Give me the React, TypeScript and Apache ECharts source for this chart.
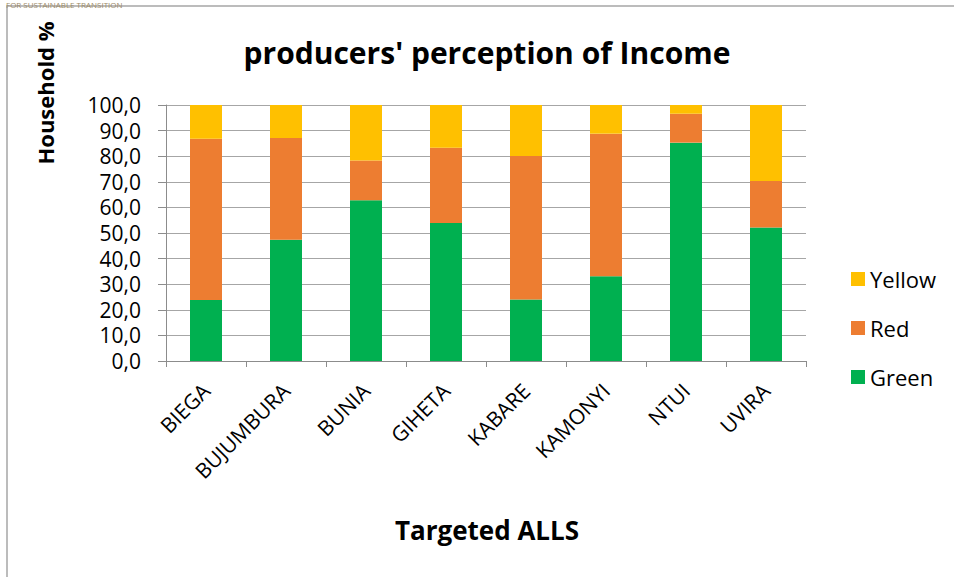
import React, { useEffect, useRef } from "react";
import * as echarts from "echarts";

const categories = ["BIEGA", "BUJUMBURA", "BUNIA", "GIHETA", "KABARE", "KAMONYI", "NTUI", "UVIRA"];
const greenValues = [23.8, 47.4, 62.8, 53.9, 24.0, 33.1, 85.3, 52.1];
const redValues = [63.0, 39.7, 15.5, 29.4, 56.1, 55.7, 11.3, 18.2];
const yellowValues = [13.2, 12.9, 21.7, 16.7, 19.9, 11.2, 3.4, 29.7];
const legendOrder = ["Yellow", "Red", "Green"];

const FONT = "'Open Sans', 'Noto Sans', sans-serif";

export default function App() {
  const ref = useRef<HTMLDivElement>(null);
  useEffect(() => {
    if (!ref.current) return;
    const chart = echarts.init(ref.current, null, { renderer: "svg" });
    const axisGray = "#8c8c8c";
    chart.setOption({
      animation: false,
      backgroundColor: "#ffffff",
      textStyle: { fontFamily: FONT },
      grid: { left: 166, right: 148, top: 105, bottom: 216, containLabel: false },
      legend: {
        orient: "vertical",
        left: 846,
        top: 263,
        itemWidth: 14,
        itemHeight: 14,
        itemGap: 27,
        icon: "rect",
        data: legendOrder,
        textStyle: { fontSize: 22, color: "#000", fontFamily: FONT },
      },
      xAxis: {
        type: "category",
        data: categories,
        axisLine: { show: true, lineStyle: { color: axisGray, width: 1 } },
        axisTick: { show: true, length: 6, alignWithLabel: false, lineStyle: { color: axisGray } },
        axisLabel: {
          interval: 0,
          rotate: 45,
          fontSize: 21,
          color: "#000",
          margin: 26,
          fontFamily: FONT,
        },
      },
      yAxis: {
        type: "value",
        min: 0,
        max: 100,
        interval: 10,
        axisLine: { show: true, lineStyle: { color: axisGray, width: 1 } },
        axisTick: { show: true, length: 8, lineStyle: { color: axisGray } },
        splitLine: { show: true, lineStyle: { color: "#a6a6a6", width: 1 } },
        axisLabel: {
          fontSize: 21,
          color: "#000",
          margin: 25,
          fontFamily: FONT,
          formatter: (v: number) => v.toFixed(1).replace(".", ","),
        },
      },
      series: [
        {
          name: "Green",
          type: "bar",
          stack: "total",
          barWidth: 32,
          data: greenValues,
          itemStyle: { color: "#00B050" },
        },
        {
          name: "Red",
          type: "bar",
          stack: "total",
          barWidth: 32,
          data: redValues,
          itemStyle: { color: "#ED7D31" },
        },
        {
          name: "Yellow",
          type: "bar",
          stack: "total",
          barWidth: 32,
          data: yellowValues,
          itemStyle: { color: "#FFC000" },
        },
      ],
      graphic: [
        {
          type: "rect",
          shape: { x: 7, y: 6, width: 1000, height: 700 },
          style: { fill: "none", stroke: "#a6a6a6", lineWidth: 1.5 },
          silent: true,
        },
        {
          type: "text",
          x: 6,
          y: 0,
          style: {
            text: "FOR SUSTAINABLE TRANSITION",
            fontSize: 8,
            fill: "#9c8a68",
            fontFamily: FONT,
            letterSpacing: 1.5,
            verticalAlign: "top",
          },
          silent: true,
        },
        {
          type: "text",
          x: 487,
          y: 52,
          style: {
            text: "producers' perception of Income",
            fontSize: 30,
            fontWeight: "bold",
            fill: "#000",
            fontFamily: FONT,
            align: "center",
            verticalAlign: "middle",
          },
        },
        {
          type: "text",
          x: 45,
          y: 93,
          rotation: Math.PI / 2,
          style: {
            text: "Household %",
            fontSize: 22,
            fontWeight: "bold",
            fill: "#000",
            fontFamily: FONT,
            align: "center",
            verticalAlign: "middle",
          },
        },
        {
          type: "text",
          x: 487,
          y: 530,
          style: {
            text: "Targeted ALLS",
            fontSize: 26,
            fontWeight: "bold",
            fill: "#000",
            fontFamily: FONT,
            align: "center",
            verticalAlign: "middle",
          },
        },
      ],
    });
    return () => chart.dispose();
  }, []);
  return <div ref={ref} style={{ width: 954, height: 577, position: "fixed", left: 0, top: 0 }} />;
}
